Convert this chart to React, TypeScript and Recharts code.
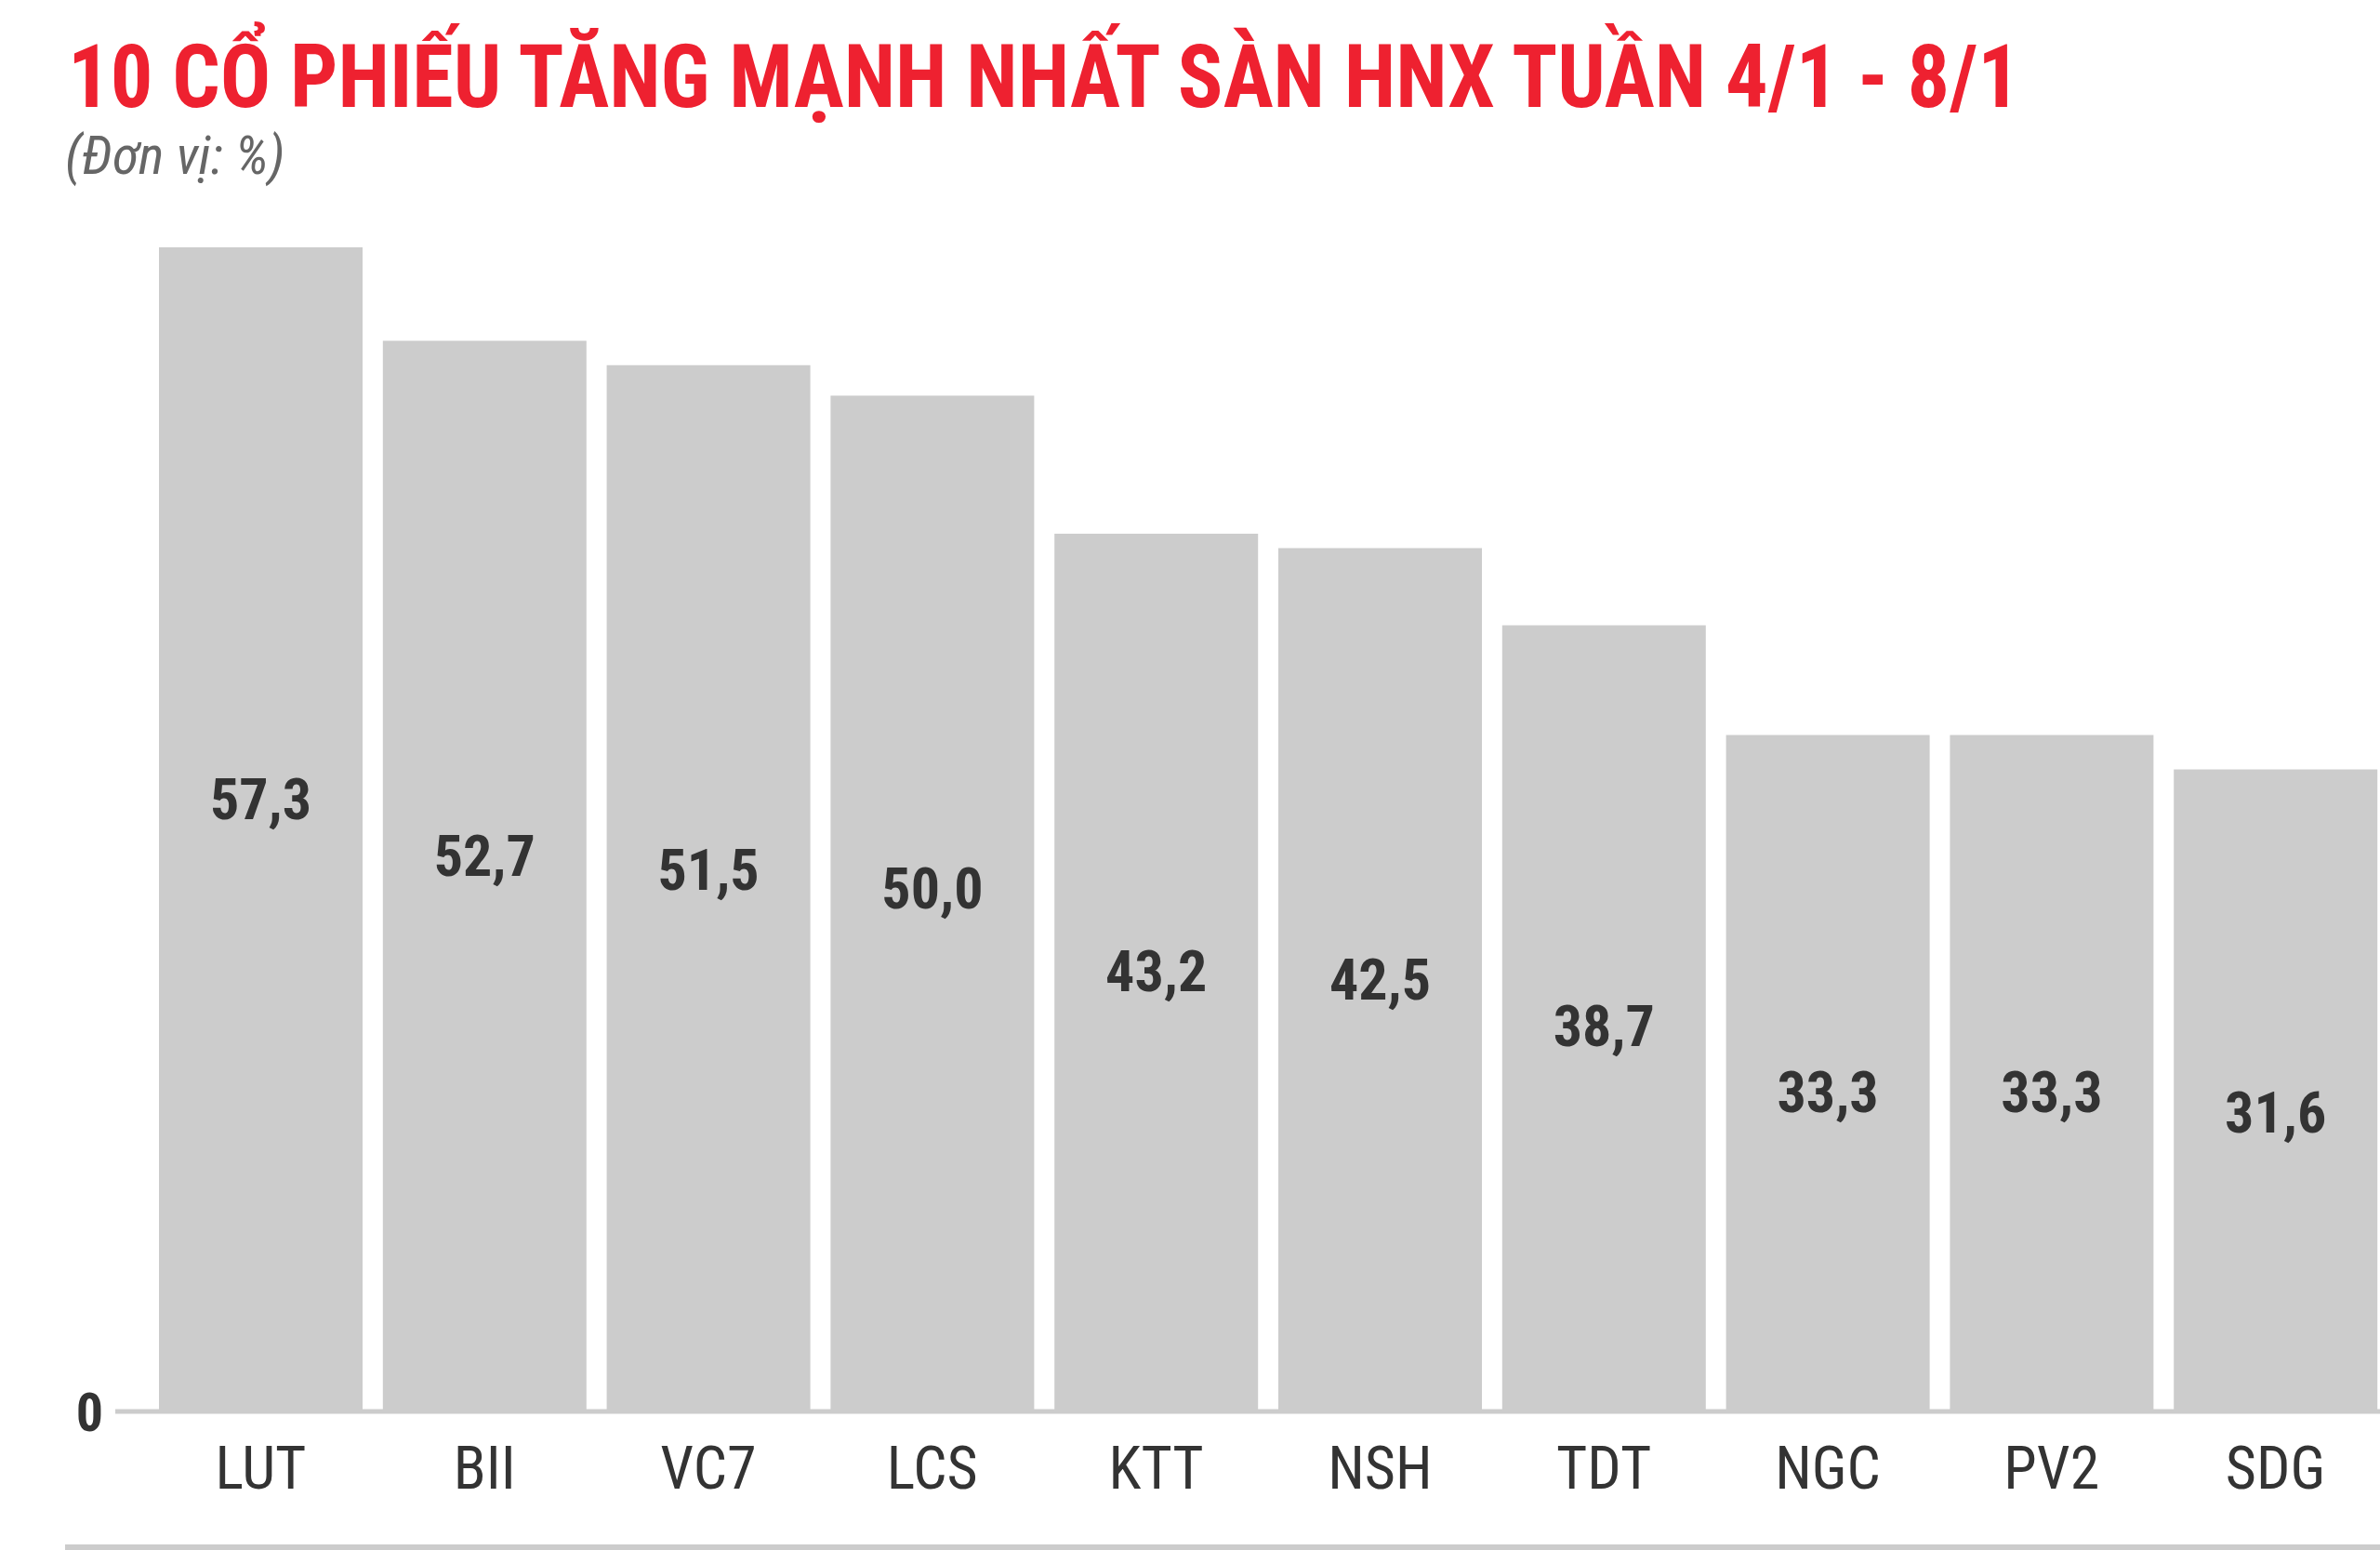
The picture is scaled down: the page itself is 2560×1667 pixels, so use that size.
import React from "react";
import { BarChart, Bar, XAxis, YAxis, LabelList } from "recharts";

const categories = ["LUT", "BII", "VC7", "LCS", "KTT", "NSH", "TDT", "NGC", "PV2", "SDG"];
const values = [57.3, 52.7, 51.5, 50.0, 43.2, 42.5, 38.7, 33.3, 33.3, 31.6];
const yTicks = [0];
const titleText = "10 CỔ PHIẾU TĂNG MẠNH NHẤT SÀN HNX TUẦN 4/1 - 8/1";
const subtitleText = "(Đơn vị: %)";

const data = categories.map((c, i) => ({ name: c, value: values[i] }));

const FONT = '"Roboto Condensed", "Liberation Sans Narrow", "DejaVu Sans Condensed", Roboto, sans-serif';
const condensed: React.CSSProperties = { fontFamily: FONT, fontStretch: "condensed" };

const fmt = (v: number) => v.toFixed(1).replace(".", ",");

const ValueLabel = (props: any) => {
  const { x, y, width, height, value } = props;
  return (
    <text
      x={x + width / 2}
      y={y + 0.4 * height + 93}
      textAnchor="middle"
      dominantBaseline="central"
      fill="#333333"
      fontSize={62}
      fontWeight={700}
      style={condensed}
    >
      {fmt(Number(value))}
    </text>
  );
};

export default function App() {
  return (
    <div style={{ position: "absolute", left: 0, top: 0, width: 2560, height: 1667, background: "#ffffff", overflow: "hidden" }}>
      <svg width={2560} height={210} style={{ position: "absolute", left: 0, top: 0 }}>
        <text
          x={73}
          y={115}
          fill="#ee2130"
          fontSize={94}
          fontWeight={700}
          textLength={2100}
          lengthAdjust="spacingAndGlyphs"
          style={condensed}
        >
          {titleText}
        </text>
        <text x={70} y={187} fill="#666666" fontSize={58} fontWeight={400} fontStyle="italic" style={condensed}>
          {subtitleText}
        </text>
      </svg>
      <div style={{ position: "absolute", left: 0, top: 0 }}>
        <BarChart
          width={2568}
          height={1667}
          data={data}
          margin={{ top: 207, right: 0, bottom: 49, left: 0 }}
        >
          <YAxis
            width={124}
            domain={[0, 60]}
            ticks={yTicks}
            axisLine={false}
            tickLine={false}
            tickSize={0}
            tickMargin={13}
            tick={{ fill: "#333333", fontSize: 58, fontWeight: 700, style: condensed }}
          />
          <XAxis
            dataKey="name"
            height={100}
            padding={{ left: 36, right: 0 }}
            axisLine={{ stroke: "#cccccc", strokeWidth: 5 }}
            tickLine={false}
            tickSize={0}
            tickMargin={38}
            interval={0}
            tick={{ fill: "#333333", fontSize: 64, fontWeight: 400, style: condensed }}
          />
          <Bar dataKey="value" fill="#cccccc" barSize={219} isAnimationActive={false}>
            <LabelList dataKey="value" content={ValueLabel} />
          </Bar>
        </BarChart>
      </div>
      <div style={{ position: "absolute", left: 70, top: 1661, width: 2490, height: 6, background: "#cccccc" }} />
    </div>
  );
}
